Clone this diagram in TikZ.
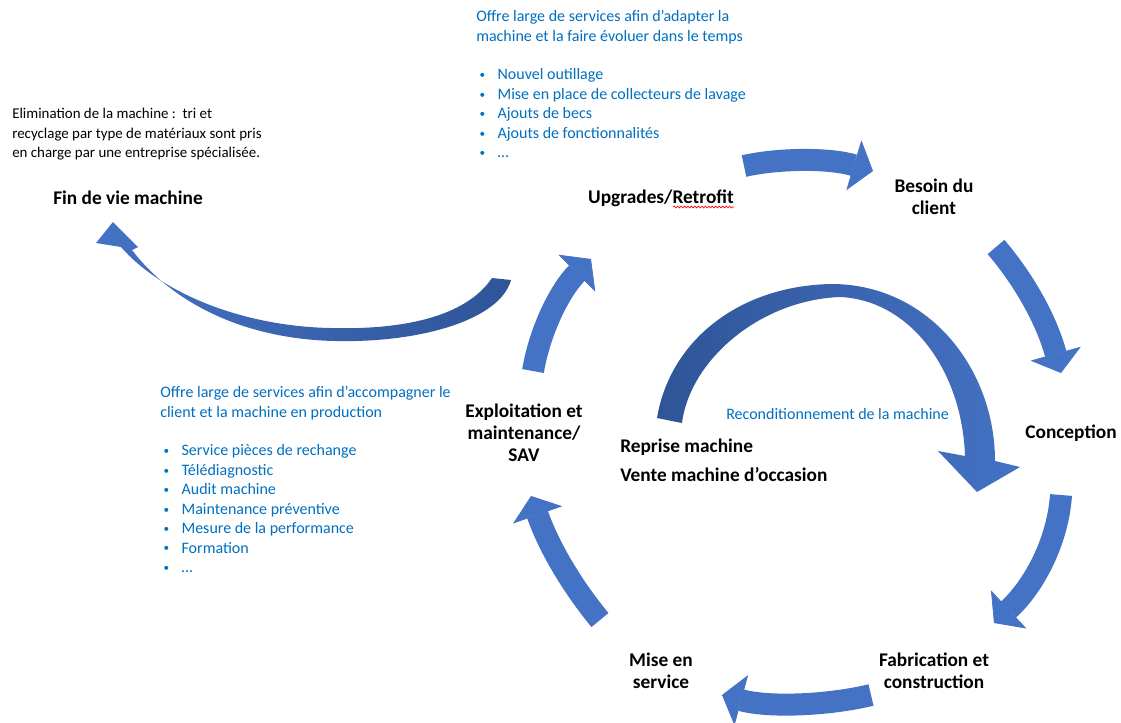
\documentclass[tikz,border=0pt]{standalone}
\usepackage{fontspec}
\setmainfont{Carlito}
\usetikzlibrary{arrows.meta,calc,decorations.pathmorphing}
\definecolor{flowblue}{HTML}{4472C4}
\definecolor{flowdark}{HTML}{2F5597}
\definecolor{noteblue}{HTML}{0070C0}
\newcommand{\itm}{\makebox[16pt][l]{\hspace{2.5pt}\raisebox{1pt}{\scalebox{0.7}{\textbullet}}}}

\begin{document}
\begin{tikzpicture}[x=0.75pt, y=-0.75pt,
    lab/.style={font=\fontsize{14.5}{16.5}\selectfont\bfseries, align=center, inner sep=0pt},
    note/.style={font=\fontsize{12}{14.6}\selectfont, text=noteblue, align=left, inner sep=0pt, anchor=north west},
    flow/.style={draw=flowblue, line width=16.5pt, -{Triangle[width=39pt, length=15pt, line width=0.5pt]}},
    spell/.style={draw=red, line width=0.5pt, decorate, decoration={snake, amplitude=0.7pt, segment length=2.6pt}}]
    \path[use as bounding box, fill=white] (0,0) rectangle (1121,722);

    % texts
    \node[note, text=black, font=\fontsize{11.2}{14.6}\selectfont] (elim) at (12,108) {Elimination de la machine :~\ tri et\\recyclage par type de matériaux sont pris\\en charge par une entreprise spécialisée.};
    \node[lab] (fin) at (128,198) {Fin de vie machine};
    \node[note] (adapt) at (476,10) {Offre large de services afin d’adapter la\\machine et la faire évoluer dans le temps\\[14.6pt]\itm Nouvel outillage\\\itm Mise en place de collecteurs de lavage\\\itm Ajouts de becs\\\itm Ajouts de fonctionnalités\\\itm …};
    \node[lab] (upg) at (661,198) {Upgrades/Retrofit};
    \node[lab] (besoin) at (934,197) {Besoin du\\client};
    \node[lab] (conc) at (1071,433) {Conception};
    \node[lab] (fab) at (934,671) {Fabrication et\\construction};
    \node[lab] (mise) at (661,671) {Mise en\\service};
    \node[lab] (expl) at (524,433) {Exploitation et\\maintenance/\\SAV};
    \node[lab, align=left, anchor=north west] (reprise) at (620,439) {Reprise machine\\[5.3pt]Vente machine d’occasion};
    \node[note, anchor=west] (recond) at (726,414) {Reconditionnement de la machine};
    \node[note] (accomp) at (160,386) {Offre large de services afin d’accompagner le\\client et la machine en production\\[14.6pt]\itm Service pièces de rechange\\\itm Télédiagnostic\\\itm Audit machine\\\itm Maintenance préventive\\\itm Mesure de la performance\\\itm Formation\\\itm …};
    \draw[spell] ($(upg.east)+(-61,9)$) -- ($(upg.east)+(0,9)$);

    % cycle arrows
    \coordinate (u1) at (744,166); \coordinate (u2) at (873,171);
    \coordinate (b1) at (996,247); \coordinate (b2) at (1061,373);
    \coordinate (c1) at (1061,495); \coordinate (c2) at (994,623);
    \coordinate (f1) at (871,695); \coordinate (f2) at (722,695);
    \coordinate (m1) at (600,620); \coordinate (m2) at (531,496);
    \coordinate (e1) at (533,371); \coordinate (e2) at (591,259);
    \draw[flow] (u1) .. controls (780,158) and (830,158) .. (u2);
    \draw[flow] (b1) .. controls (1020,275) and (1045,315) .. (b2);
    \draw[flow] (c1) .. controls (1058,540) and (1035,585) .. (c2);
    \draw[flow] (f1) .. controls (830,705) and (770,708) .. (f2);
    \draw[flow] (m1) .. controls (575,590) and (550,550) .. (m2);
    \draw[flow] (e1) .. controls (540,330) and (560,290) .. (e2);

    % end of life arrow
    \shade[left color=flowblue, right color=flowdark] (492,278)
        .. controls (465,318) and (400,330) .. (330,328)
        .. controls (240,326) and (160,292) .. (121,247)
        -- (96,243) -- (113,222) -- (138,247) -- (132,250)
        .. controls (170,300) and (240,339) .. (335,341)
        .. controls (420,343) and (500,320) .. (511,280) -- cycle;

    % refurbishing arrow
    \shade[left color=flowdark, middle color=flowblue, right color=flowblue] (657,418) -- (682,423)
        .. controls (690,360) and (760,300) .. (840,297)
        .. controls (910,300) and (962,370) .. (965,456)
        -- (938,451) -- (977,492) -- (1020,467) -- (995,461)
        .. controls (995,370) and (930,285) .. (833,284)
        .. controls (740,285) and (670,340) .. (657,418) -- cycle;
\end{tikzpicture}
\end{document}
